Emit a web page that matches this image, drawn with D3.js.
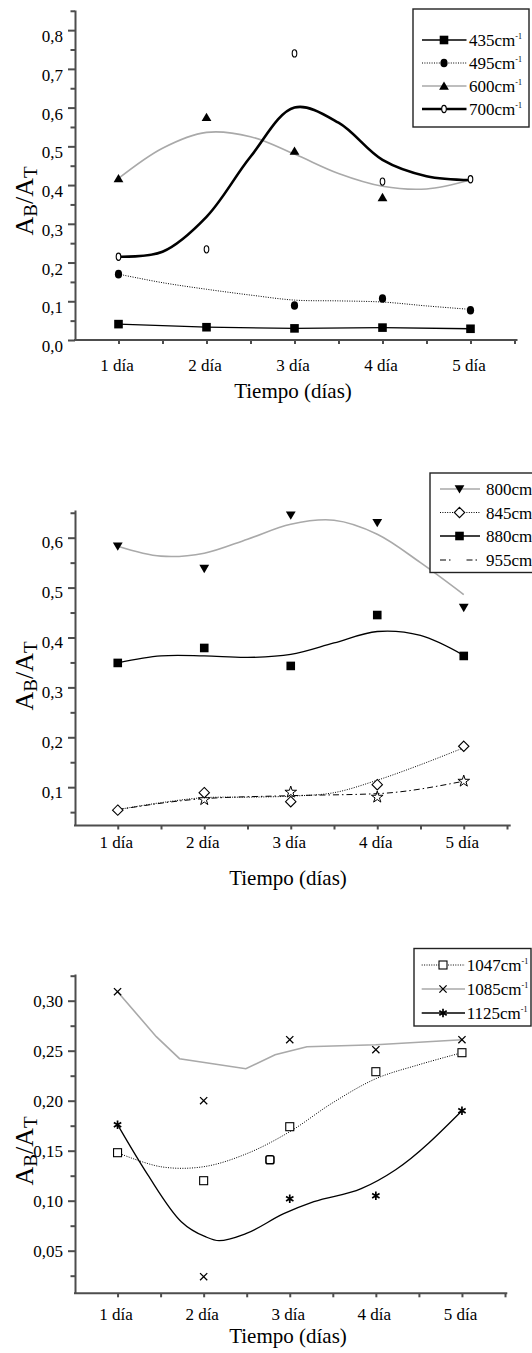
<!DOCTYPE html>
<html>
<head>
<meta charset="utf-8">
<script src="https://cdn.jsdelivr.net/npm/d3@7"></script>
<style>
  body { margin: 0; background: #fff; }
  svg { display: block; }
  svg text { font-family: "Liberation Serif", Tinos, "Times New Roman", "Nimbus Roman", "DejaVu Serif", serif !important; fill: #000; }
</style>
</head>
<body>
<svg id="chart" width="532" height="1353" font-family="Liberation Serif, Tinos, Times New Roman, DejaVu Serif, serif"></svg>
<script>
// ---- categories ----
const days = [1, 2, 3, 4, 5];
const dayLabels = ["1 día", "2 día", "3 día", "4 día", "5 día"];
const halfDays = [1, 1.5, 2, 2.5, 3, 3.5, 4, 4.5, 5];

// ---- bands 435–700 cm-1 (A_B/A_T) ----
const band435 = [0.041, 0.033, 0.030, 0.032, 0.029];
const band495 = [0.170, null, 0.089, 0.107, 0.077];
const band600 = [0.417, 0.575, 0.488, 0.368, null];
const band700 = [0.215, 0.234, 0.740, 0.409, 0.415];
// smoothed trends, sampled every half day
const trend495 = [0.170, 0.148, 0.131, 0.116, 0.103, 0.101, 0.098, 0.088, 0.079];
const trend600 = [0.417, 0.495, 0.536, 0.525, 0.480, 0.430, 0.397, 0.390, 0.413];
const trend700 = [0.215, 0.228, 0.318, 0.473, 0.600, 0.561, 0.465, 0.423, 0.413];
const yTicks1 = [0, 0.1, 0.2, 0.3, 0.4, 0.5, 0.6, 0.7, 0.8];

// ---- bands 800–955 cm-1 ----
const band800 = [0.583, 0.538, 0.645, 0.630, 0.460];
const band845 = [0.054, 0.089, 0.071, 0.105, 0.182];
const band880 = [0.349, 0.379, 0.343, 0.445, 0.363];
const band955 = [null, 0.075, 0.090, 0.080, 0.112];
const trend800 = [0.583, 0.563, 0.569, 0.597, 0.627, 0.635, 0.607, 0.550, 0.486];
const trend845 = [0.055, 0.069, 0.079, 0.080, 0.082, 0.089, 0.114, 0.145, 0.179];
const trend880 = [0.349, 0.363, 0.363, 0.360, 0.366, 0.389, 0.412, 0.404, 0.364];
const trend955 = [0.055, 0.077, 0.083, 0.087, 0.112];
const yTicks2 = [0.1, 0.2, 0.3, 0.4, 0.5, 0.6];

// ---- bands 1047–1125 cm-1 ----
const band1047 = [0.148, 0.120, 0.174, 0.229, 0.248];
const band1085 = [0.309, 0.200, 0.261, 0.251, 0.261];
const band1125 = [0.176, null, 0.102, 0.105, 0.190];
const extra1047 = [[2.77, 0.141]];
const extra1085 = [[2, 0.024]];
const trend1047 = [0.148, 0.134, 0.134, 0.147, 0.169, 0.198, 0.222, 0.236, 0.248];
const trend1085Days = [1, 1.45, 1.72, 2.49, 2.83, 3.2, 4.0, 5.0];
const trend1085 = [0.309, 0.264, 0.242, 0.232, 0.246, 0.254, 0.256, 0.261];
const trend1125Days = [1, 1.35, 1.74, 2.02, 2.18, 2.49, 2.93, 3.28, 3.83, 4.23, 5.0];
const trend1125 = [0.176, 0.126, 0.079, 0.064, 0.060, 0.067, 0.087, 0.099, 0.112, 0.131, 0.190];
const yTicks3 = [0.05, 0.10, 0.15, 0.20, 0.25, 0.30];

const SERIF = "Liberation Serif, Tinos, Times New Roman, DejaVu Serif, serif";
const GRAY = "#a9a9a9";
const AXIS = "#4d4d4d";
const svg = d3.select("#chart");

// ---- marker shapes ----
function marker(g, type, x, y) {
  const m = g.append("g").attr("transform", `translate(${x},${y})`);
  switch (type) {
    case "square":
      m.append("rect").attr("x", -4.3).attr("y", -4.3).attr("width", 8.6).attr("height", 8.6).attr("fill", "#000");
      break;
    case "circle":
      m.append("ellipse").attr("rx", 3.6).attr("ry", 4.3).attr("fill", "#000");
      break;
    case "triUp":
      m.append("path").attr("d", "M0,-4.6L4.9,3.8L-4.9,3.8Z").attr("fill", "#000");
      break;
    case "triDown":
      m.append("path").attr("d", "M-4.9,-3.8L4.9,-3.8L0,4.6Z").attr("fill", "#000");
      break;
    case "zero":
      m.append("ellipse").attr("rx", 2.3).attr("ry", 3.6).attr("fill", "#fff").attr("stroke", "#000").attr("stroke-width", 1.1);
      break;
    case "diamond":
      m.append("path").attr("d", "M0,-5.2L5.2,0L0,5.2L-5.2,0Z").attr("fill", "#fff").attr("stroke", "#000").attr("stroke-width", 1.1);
      break;
    case "star":
      m.append("path").attr("d", d3.symbol(d3.symbolStar, 42)()).attr("fill", "#fff").attr("stroke", "#000").attr("stroke-width", 1);
      break;
    case "openSquare":
      m.append("rect").attr("x", -4).attr("y", -4).attr("width", 8).attr("height", 8).attr("fill", "#fff").attr("stroke", "#000").attr("stroke-width", 1.1);
      break;
    case "roundSquare":
      m.append("rect").attr("x", -4).attr("y", -4).attr("width", 8).attr("height", 8).attr("rx", 1.8).attr("fill", "#fff").attr("stroke", "#000").attr("stroke-width", 1.6);
      break;
    case "cross":
      m.append("path").attr("d", "M-3.6,-3.6L3.6,3.6M-3.6,3.6L3.6,-3.6").attr("stroke", "#000").attr("stroke-width", 1.3);
      break;
    case "asterisk":
      m.append("path").attr("d", "M0,-4.2L0,4.2M-3.7,-2.2L3.7,2.2M-3.7,2.2L3.7,-2.2M-2,0L2,0").attr("stroke", "#000").attr("stroke-width", 1.7);
      break;
  }
}

const lineStyles = {
  solid:  { stroke: "#000", width: 1.3, dash: null },
  dotted: { stroke: "#000", width: 1, dash: "1,1.4" },
  gray:   { stroke: GRAY, width: 1.6, dash: null },
  thick:  { stroke: "#000", width: 2.6, dash: null },
  dashdot:{ stroke: "#000", width: 1, dash: "6,3,1.5,3" }
};

function drawPanel(cfg) {
  const g = svg.append("g");
  const x = d3.scaleLinear().domain([0.5, 5.5]).range(cfg.xRange);
  const y = d3.scaleLinear().domain(cfg.yDomain).range(cfg.yRange);
  const fmt = v => d3.format(cfg.fmt)(v).replace(".", ",");
  const x0 = 75, yBase = cfg.yRange[0];

  // y axis: major ticks with labels
  const step = cfg.yTicks[1] - cfg.yTicks[0];
  const minor = d3.range(cfg.yTicks[0] - step / 2, cfg.yDomain[1] + 1e-9, step)
    .filter(v => v >= cfg.yDomain[0] && v <= cfg.yDomain[1]);
  const yAxis = g.append("g").attr("transform", `translate(${x0},0)`)
    .call(d3.axisLeft(y).tickValues(cfg.yTicks).tickSize(7).tickSizeOuter(0).tickFormat(fmt));
  yAxis.attr("font-family", SERIF).attr("font-size", 17);
  yAxis.select(".domain").attr("stroke", AXIS).attr("stroke-width", 2);
  yAxis.selectAll(".tick line").attr("stroke", AXIS).attr("stroke-width", 2);
  yAxis.selectAll(".tick text").attr("font-size", 17).attr("font-family", SERIF)
    .attr("x", -12).attr("dy", null).attr("y", cfg.yLabelShift);
  const yMinor = g.append("g").attr("transform", `translate(${x0},0)`)
    .call(d3.axisLeft(y).tickValues(minor).tickSize(4.5).tickSizeOuter(0).tickFormat(""));
  yMinor.select(".domain").remove();
  yMinor.selectAll(".tick line").attr("stroke", AXIS).attr("stroke-width", 2);

  // x axis: ticks every half day
  const xAxis = g.append("g").attr("transform", `translate(0,${yBase})`)
    .call(d3.axisBottom(x).tickValues(d3.range(1, 5.51, 0.5)).tickSize(4).tickSizeOuter(0).tickFormat(""));
  xAxis.select(".domain").remove();
  xAxis.selectAll(".tick line").attr("stroke", AXIS).attr("stroke-width", 2);
  g.append("line").attr("x1", x0 - 1).attr("x2", cfg.axisEnd).attr("y1", yBase).attr("y2", yBase)
    .attr("stroke", AXIS).attr("stroke-width", 2);

  g.selectAll(".daylabel").data(days).join("text")
    .attr("x", d => x(d) - 1.5).attr("y", cfg.xLabelY)
    .attr("text-anchor", "middle").attr("font-size", 17).attr("font-family", SERIF)
    .text((d, i) => dayLabels[i]);

  g.append("text").attr("x", cfg.titleX).attr("y", cfg.titleY)
    .attr("text-anchor", "middle").attr("font-size", 21).attr("font-family", SERIF)
    .text("Tiempo (días)");

  // y label A_B/A_T
  const yl = g.append("text")
    .attr("transform", `translate(${cfg.yLab[0]},${cfg.yLab[1]}) rotate(-90)`)
    .attr("text-anchor", "middle").attr("font-size", 26).attr("font-family", SERIF);
  yl.append("tspan").text("A");
  yl.append("tspan").attr("font-size", 19).attr("dy", 4).text("B");
  yl.append("tspan").attr("dy", -4).text("/A");
  yl.append("tspan").attr("font-size", 19).attr("dy", 4).text("T");

  // trend lines
  cfg.lines.forEach(l => {
    const st = lineStyles[l.style];
    const pts = l.xs.map((d, i) => [d, l.ys[i]]).filter(p => p[1] != null);
    g.append("path")
      .attr("d", d3.line().x(p => x(p[0])).y(p => y(p[1])).curve(l.curve)(pts))
      .attr("fill", "none").attr("stroke", st.stroke).attr("stroke-width", st.width)
      .attr("stroke-dasharray", st.dash);
  });

  // markers
  cfg.points.forEach(s => {
    s.xs.forEach((d, i) => {
      if (s.ys[i] != null) marker(g, s.shape, x(d), y(s.ys[i]));
    });
  });

  // legend
  const L = cfg.legend;
  g.append("rect").attr("x", L.x0).attr("y", L.y0).attr("width", L.x1 - L.x0).attr("height", L.y1 - L.y0)
    .attr("fill", "#fff").attr("stroke", "#222").attr("stroke-width", 1.4);
  L.items.forEach((it, i) => {
    const ry = L.rows[i];
    const st = lineStyles[it.style];
    const segs = it.gap ? [[L.lx0, L.mx - 7], [L.mx + 7, L.lx1]] : [[L.lx0, L.lx1]];
    segs.forEach(sg => g.append("line").attr("x1", sg[0]).attr("x2", sg[1]).attr("y1", ry).attr("y2", ry)
      .attr("stroke", st.stroke).attr("stroke-width", Math.min(st.width, 2.4)).attr("stroke-dasharray", st.dash));
    if (it.shape) marker(g, it.shape, L.mx, ry);
    const t = g.append("text").attr("x", L.tx).attr("y", ry + 6).attr("font-size", 17).attr("font-family", SERIF);
    t.append("tspan").text(it.label + "cm");
    t.append("tspan").attr("font-size", 8).attr("dy", -7).text("-1");
  });
}

const linear = d3.curveLinear;
const smooth = d3.curveCatmullRom.alpha(0.5);

// Panel 1: 435–700 cm-1
drawPanel({
  xRange: [74.5, 514.5], axisEnd: 517.5,
  yDomain: [0, 0.852], yRange: [340, 10],
  yTicks: yTicks1, fmt: ".1f", yLabelShift: 11.5,
  xLabelY: 371, titleX: 293, titleY: 398, yLab: [33, 201],
  lines: [
    { xs: days, ys: band435, style: "solid", curve: linear },
    { xs: halfDays, ys: trend495, style: "dotted", curve: smooth },
    { xs: halfDays, ys: trend600, style: "gray", curve: smooth },
    { xs: halfDays, ys: trend700, style: "thick", curve: smooth }
  ],
  points: [
    { xs: days, ys: band435, shape: "square" },
    { xs: days, ys: band495, shape: "circle" },
    { xs: days, ys: band600, shape: "triUp" },
    { xs: days, ys: band700, shape: "zero" }
  ],
  legend: {
    x0: 413, x1: 529, y0: 9, y1: 127, rows: [40, 63, 86, 109],
    lx0: 422, lx1: 466.5, mx: 444, tx: 469,
    items: [
      { label: "435", style: "solid", shape: "square" },
      { label: "495", style: "dotted", shape: "circle" },
      { label: "600", style: "gray", shape: "triUp" },
      { label: "700", style: "thick", shape: "zero" }
    ]
  }
});

// Panel 2: 800–955 cm-1
drawPanel({
  xRange: [74.5, 507], axisEnd: 510.7,
  yDomain: [0.0232, 0.6555], yRange: [825.5, 510],
  yTicks: yTicks2, fmt: ".1f", yLabelShift: 10,
  xLabelY: 848, titleX: 288, titleY: 885, yLab: [33, 676],
  lines: [
    { xs: halfDays, ys: trend800, style: "gray", curve: smooth },
    { xs: halfDays, ys: trend845, style: "dotted", curve: smooth },
    { xs: halfDays, ys: trend880, style: "solid", curve: smooth },
    { xs: days, ys: trend955, style: "dashdot", curve: d3.curveMonotoneX }
  ],
  points: [
    { xs: days, ys: band955, shape: "star" },
    { xs: days, ys: band800, shape: "triDown" },
    { xs: days, ys: band845, shape: "diamond" },
    { xs: days, ys: band880, shape: "square" }
  ],
  legend: {
    x0: 430, x1: 560, y0: 473, y1: 572.5, rows: [489, 512.5, 536, 560],
    lx0: 440, lx1: 480, mx: 459.5, tx: 486,
    items: [
      { label: "800", style: "gray", shape: "triDown" },
      { label: "845", style: "dotted", shape: "diamond" },
      { label: "880", style: "solid", shape: "square" },
      { label: "955", style: "dashdot", shape: null, gap: true }
    ]
  }
});

// Panel 3: 1047–1125 cm-1
drawPanel({
  xRange: [74.5, 505], axisEnd: 507.3,
  yDomain: [0.0074, 0.3267], yRange: [1293.3, 974],
  yTicks: yTicks3, fmt: ".2f", yLabelShift: 6,
  xLabelY: 1319.5, titleX: 288, titleY: 1342.5, yLab: [33, 1151],
  lines: [
    { xs: halfDays, ys: trend1047, style: "dotted", curve: smooth },
    { xs: trend1085Days, ys: trend1085, style: "gray", curve: linear },
    { xs: trend1125Days, ys: trend1125, style: "solid", curve: d3.curveMonotoneX }
  ],
  points: [
    { xs: days, ys: band1047, shape: "openSquare" },
    { xs: extra1047.map(p => p[0]), ys: extra1047.map(p => p[1]), shape: "roundSquare" },
    { xs: days, ys: band1085, shape: "cross" },
    { xs: extra1085.map(p => p[0]), ys: extra1085.map(p => p[1]), shape: "cross" },
    { xs: days, ys: band1125, shape: "asterisk" }
  ],
  legend: {
    x0: 414, x1: 531, y0: 948.5, y1: 1026, rows: [965, 989, 1013],
    lx0: 421.7, lx1: 465, mx: 443, tx: 466.7,
    items: [
      { label: "1047", style: "dotted", shape: "openSquare" },
      { label: "1085", style: "gray", shape: "cross" },
      { label: "1125", style: "solid", shape: "asterisk" }
    ]
  }
});
</script>
</body>
</html>
